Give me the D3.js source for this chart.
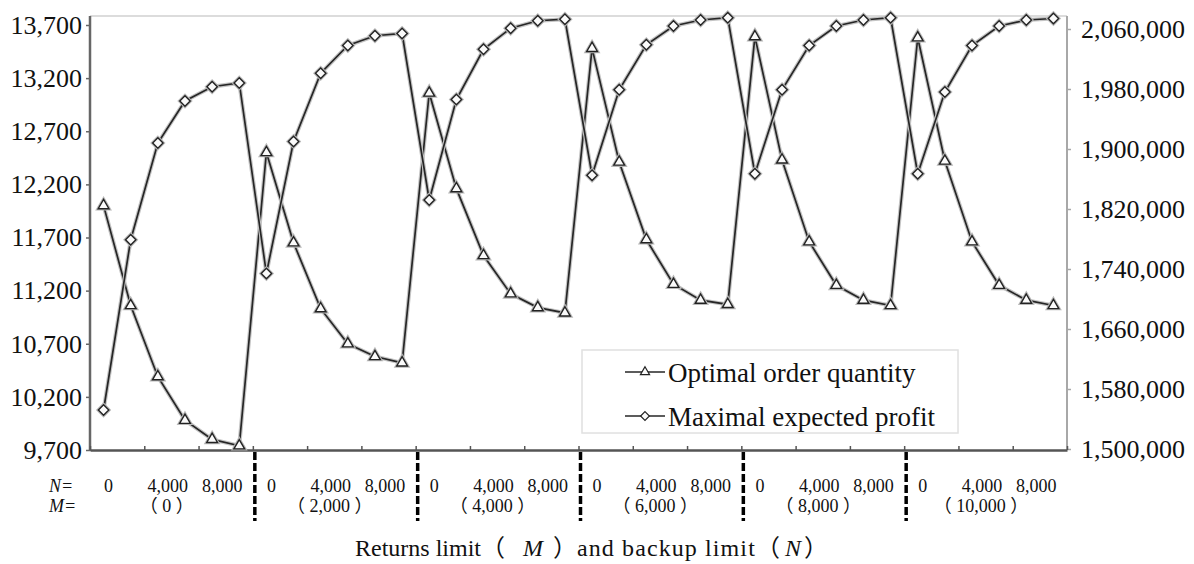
<!DOCTYPE html>
<html lang="en">
    <head>
        <meta charset="utf-8">
        <title>Optimal order quantity and maximal expected profit</title>
        <script src="https://d3js.org/d3.v7.min.js"></script>
        <style type="text/css">
            body { margin: 0; background: #fff; }
            text { font-family: "Liberation Serif", "Times New Roman", "Noto Sans CJK SC", serif; fill: #111; }
            .cjk { font-family: "Noto Sans CJK SC", sans-serif; }
        </style>
    </head>
    <body>
        <svg width="1194" height="564"></svg>
        <script type="text/javascript">

            // returns limit M (one group each) and backup limit N (inside a group)
            const mLimits = ["0", "2,000", "4,000", "6,000", "8,000", "10,000"];
            const nLimits = [0, 2000, 4000, 6000, 8000, 10000];
            const nShown = [0, 4000, 8000];

            // group by group
            const orderQty = [
                12000, 11060, 10390, 9980, 9800, 9740,
                12500, 11650, 11030, 10700, 10580, 10520,
                13060, 12160, 11530, 11170, 11040, 10990,
                13480, 12410, 11680, 11260, 11110, 11070,
                13590, 12430, 11660, 11250, 11110, 11060,
                13580, 12420, 11660, 11250, 11110, 11060
            ];
            const maxProfit = [
                1552000, 1779000, 1908000, 1964000, 1983000, 1988000,
                1734000, 1910000, 2001000, 2038000, 2051000, 2054000,
                1832000, 1966000, 2033000, 2061000, 2071000, 2073000,
                1865000, 1979000, 2039000, 2064000, 2072000, 2075000,
                1867000, 1979000, 2038000, 2064000, 2072000, 2075000,
                1867000, 1976000, 2038000, 2064000, 2072000, 2074000
            ];

            const qtyTicks = [9700, 10200, 10700, 11200, 11700, 12200, 12700, 13200, 13700];
            const profitTicks = [1500000, 1580000, 1660000, 1740000, 1820000, 1900000, 1980000, 2060000];

            const seriesNames = ["Optimal order quantity", "Maximal expected profit"];

            // one category per (M, N) pair
            const cats = mLimits.flatMap((m, g) => nLimits.map((n, k) => ({m: m, n: n, g: g, k: k})));

            const svg = d3.select("svg");
            const padLeft = 90, padRight = 1067, padTop = 16, padBottom = 450;
            const fmt = d3.format(",");
            const serif = "'Liberation Serif', 'Times New Roman', serif";

            const x = d3.scaleBand().domain(d3.range(cats.length)).range([padLeft, padRight]);
            const xEdge = d3.scaleLinear().domain([0, cats.length]).range([padLeft, padRight]);
            const cx = i => x(i) + x.bandwidth() / 2;

            const yQty = d3.scaleLinear().domain([9700, 13700]).range([450, 25]);
            const yProfit = d3.scaleLinear().domain([1500000, 2060000]).range([449, 29]);

            // plot frame
            svg.append("line")
               .attr("x1", padLeft).attr("x2", padRight).attr("y1", padTop).attr("y2", padTop)
               .attr("stroke", "#dcdcdc").attr("stroke-width", 2);
            svg.append("line")
               .attr("x1", padRight).attr("x2", padRight).attr("y1", padTop).attr("y2", padBottom)
               .attr("stroke", "#a8a8a8").attr("stroke-width", 2);
            svg.append("line")
               .attr("x1", padLeft).attr("x2", padLeft).attr("y1", padTop).attr("y2", padBottom + 1)
               .attr("stroke", "#666").attr("stroke-width", 2.5);

            // left axis
            const gl = svg.append("g")
                          .attr("transform", `translate(${padLeft},0)`)
                          .call(d3.axisLeft(yQty).tickValues(qtyTicks).tickSize(4).tickPadding(4).tickFormat(fmt));
            gl.select(".domain").remove();
            gl.selectAll("line").attr("stroke", "#666").attr("stroke-width", 1.5);
            gl.attr("font-family", serif).attr("font-size", 26);
            gl.selectAll("text").attr("fill", "#111");

            // right axis
            const gr = svg.append("g")
                          .attr("transform", `translate(${padRight},0)`)
                          .call(d3.axisRight(yProfit).tickValues(profitTicks).tickSize(4).tickPadding(10).tickFormat(fmt));
            gr.select(".domain").remove();
            gr.selectAll("line").attr("stroke", "#a8a8a8").attr("stroke-width", 1.5);
            gr.attr("font-family", serif).attr("font-size", 26);
            gr.selectAll("text").attr("fill", "#111");

            // bottom axis, ticks every two categories pointing up
            const gb = svg.append("g")
                          .attr("transform", `translate(0,${padBottom})`)
                          .call(d3.axisBottom(xEdge).tickValues(d3.range(0, cats.length + 1, 2))
                                  .tickSizeInner(-4).tickSizeOuter(0).tickFormat(""));
            gb.select(".domain").attr("stroke", "#555").attr("stroke-width", 2.5);
            gb.selectAll("line").attr("stroke", "#555").attr("stroke-width", 1.5);

            // dashed separators between M groups
            svg.selectAll("line.sep")
               .data(mLimits.slice(1))
               .enter()
               .append("line")
               .attr("class", "sep")
               .attr("x1", (d, i) => xEdge((i + 1) * nLimits.length) + 2)
               .attr("x2", (d, i) => xEdge((i + 1) * nLimits.length) + 2)
               .attr("y1", padBottom + 2).attr("y2", 521)
               .attr("stroke", "#000").attr("stroke-width", 3.5)
               .attr("stroke-dasharray", "8,3");

            // category labels
            svg.append("text").attr("x", 49).attr("y", 492).attr("font-size", 18)
               .attr("font-style", "italic").text("N=");
            svg.append("text").attr("x", 49).attr("y", 512).attr("font-size", 18)
               .attr("font-style", "italic").text("M=");

            svg.selectAll("text.nlab")
               .data(cats.filter(d => nShown.includes(d.n)))
               .enter()
               .append("text")
               .attr("class", "nlab")
               .attr("x", d => cx(d.g * nLimits.length + d.k) + (d.n === 0 ? 5 : 10))
               .attr("y", 492)
               .attr("font-size", 18)
               .attr("text-anchor", "middle")
               .text(d => fmt(d.n));

            svg.selectAll("text.mlab")
               .data(mLimits)
               .enter()
               .append("text")
               .attr("class", "mlab")
               .attr("x", (d, g) => cx(g * nLimits.length + 2) + 9)
               .attr("y", 512)
               .attr("font-size", 18)
               .attr("text-anchor", "middle")
               .text(d => "（ " + d + " ）");

            // axis title
            const title = svg.append("text")
                             .attr("x", 355).attr("y", 556)
                             .attr("font-size", 24);
            title.append("tspan").text("Returns limit");
            title.append("tspan").attr("class", "cjk").text("（");
            title.append("tspan").attr("font-style", "italic").attr("dx", 18).text("M");
            title.append("tspan").attr("class", "cjk").attr("dx", 10).text("）");
            title.append("tspan").attr("letter-spacing", 1.1).text("and backup limit");
            title.append("tspan").attr("class", "cjk").text("（");
            title.append("tspan").attr("font-style", "italic").attr("dx", 5).text("N");
            title.append("tspan").attr("class", "cjk").attr("dx", 3).text("）");

            // markers
            const triangle = d3.symbol().type(d3.symbolTriangle).size(50);
            const diamond = "M0,-5.2L5.2,0L0,5.2L-5.2,0Z";

            const lineQty = d3.line().x((d, i) => cx(i)).y(d => yQty(d));
            const lineProfit = d3.line().x((d, i) => cx(i)).y(d => yProfit(d));

            const series = [
                {values: orderQty, line: lineQty, y: yQty, shape: triangle()},
                {values: maxProfit, line: lineProfit, y: yProfit, shape: diamond}
            ];

            series.forEach(s => {
                // soft grey halo like the scanned figure
                svg.append("path")
                   .attr("d", s.line(s.values))
                   .attr("fill", "none")
                   .attr("stroke", "#c4c4c4")
                   .attr("stroke-width", 4);
                svg.append("path")
                   .attr("d", s.line(s.values))
                   .attr("fill", "none")
                   .attr("stroke", "#262626")
                   .attr("stroke-width", 1.7);
            });

            series.forEach(s => {
                const g = svg.append("g");
                g.selectAll("path.halo")
                 .data(s.values)
                 .enter()
                 .append("path")
                 .attr("class", "halo")
                 .attr("d", s.shape)
                 .attr("transform", (d, i) => `translate(${cx(i)},${s.y(d)})`)
                 .attr("fill", "none")
                 .attr("stroke", "#b8b8b8")
                 .attr("stroke-width", 3.5);
                g.selectAll("path.mark")
                 .data(s.values)
                 .enter()
                 .append("path")
                 .attr("class", "mark")
                 .attr("d", s.shape)
                 .attr("transform", (d, i) => `translate(${cx(i)},${s.y(d)})`)
                 .attr("fill", "#fafafa")
                 .attr("stroke", "#222")
                 .attr("stroke-width", 1.4);
            });

            // legend
            const lg = svg.append("g");
            lg.append("rect")
              .attr("x", 582).attr("y", 350).attr("width", 376).attr("height", 83)
              .attr("fill", "#fff").attr("stroke", "#e0e0e0").attr("stroke-width", 1.5);

            const rows = lg.selectAll("g.row")
                           .data(seriesNames)
                           .enter()
                           .append("g")
                           .attr("class", "row")
                           .attr("transform", (d, i) => `translate(0,${i * 44})`);
            rows.append("line")
                .attr("x1", 625).attr("x2", 665).attr("y1", 372).attr("y2", 372)
                .attr("stroke", "#262626").attr("stroke-width", 1.7);
            rows.append("path")
                .attr("d", (d, i) => series[i].shape)
                .attr("transform", "translate(645,372) scale(0.85)")
                .attr("fill", "#fafafa").attr("stroke", "#222").attr("stroke-width", 1.4);
            rows.append("text")
                .attr("x", 668).attr("y", 382)
                .attr("font-size", 27)
                .text(d => d);

        </script>
    </body>
</html>
